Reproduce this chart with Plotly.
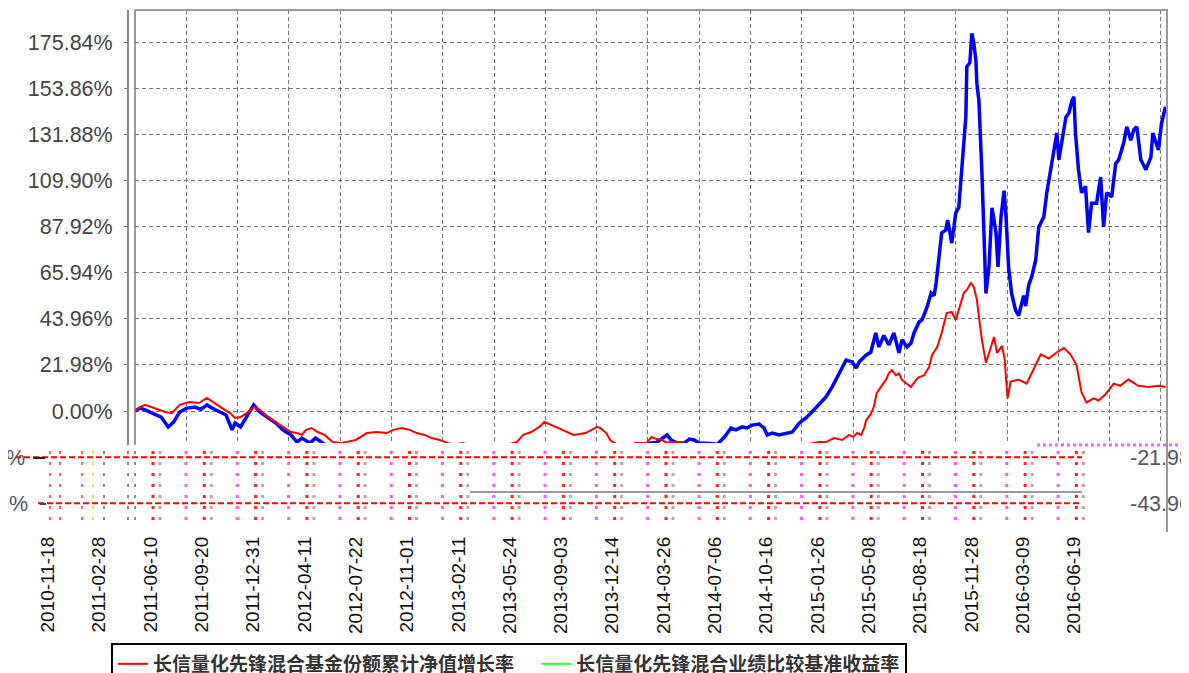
import pandas as pd
import plotly.graph_objects as go

# ---------------- data ----------------
START_DATE = "2010-11-18"
END_DATE = "2016-07-03"

tick_dates = ["2010-11-18", "2011-02-28", "2011-06-10", "2011-09-20", "2011-12-31",
              "2012-04-11", "2012-07-22", "2012-11-01", "2013-02-11", "2013-05-24",
              "2013-09-03", "2013-12-14", "2014-03-26", "2014-07-06", "2014-10-16",
              "2015-01-26", "2015-05-08", "2015-08-18", "2015-11-28", "2016-03-09",
              "2016-06-19"]

y_tick_values = [0.00, 21.98, 43.96, 65.94, 87.92, 109.90, 131.88, 153.86, 175.84]
y_band_labels = ["-21.98%", "-43.96%"]

legend_names = ["长信量化先锋混合基金份额累计净值增长率", "长信量化先锋混合业绩比较基准收益率"]

# blue line: days since start, cumulative return (%)
blue_days = [0, 10, 20, 36, 52, 66, 77, 89, 103, 119, 131, 143, 153, 169, 181, 193, 199, 210,
             222, 236, 248, 264, 280, 294, 310, 322, 332, 348, 359, 369, 383, 407, 437, 467,
             492, 516, 546, 576, 606, 635, 665, 695, 725, 764, 804, 826, 854, 884, 913, 943,
             973, 1003, 1023, 1037, 1048, 1058, 1066, 1078, 1092, 1102, 1112, 1122, 1142,
             1158, 1172, 1185, 1195, 1207, 1217, 1227, 1241, 1251, 1257, 1267, 1281, 1295,
             1307, 1321, 1334, 1346, 1360, 1374, 1386, 1400, 1414, 1426, 1434, 1440, 1454,
             1463, 1473, 1479, 1489, 1499, 1509, 1519, 1525, 1535, 1543, 1549, 1559, 1565,
             1575, 1583, 1589, 1593, 1599, 1604, 1612, 1616, 1624, 1628, 1632, 1638, 1644,
             1648, 1652, 1654, 1660, 1664, 1668, 1672, 1674, 1678, 1682, 1684, 1688, 1692,
             1698, 1704, 1712, 1716, 1722, 1728, 1732, 1737, 1743, 1751, 1757, 1761, 1767,
             1771, 1777, 1783, 1791, 1797, 1807, 1813, 1821, 1827, 1833, 1837, 1843, 1851,
             1857, 1863, 1867, 1870, 1876, 1882, 1890, 1896, 1902, 1912, 1920, 1926, 1932,
             1942, 1950, 1956, 1966, 1972, 1980, 1986, 1992, 2000, 2010, 2020, 2024, 2031,
             2035, 2041, 2049]
blue_values = [0, 1.4, 0.5, -1, -2.9, -7.6, -5.2, -0.5, 1.4, 1.9, 0.8, 2.9, 1.4, -0.5, -1.9,
               -9, -5.7, -7.6, -2.9, 2.9, -0.5, -3.3, -5.7, -9, -11.4, -14.8, -12.9, -15.3,
               -12.9, -14.5, -17, -19, -21, -18, -19.6, -17.5, -19, -21, -22, -24, -23, -21,
               -22, -19, -18, -19.6, -22, -21, -19, -20, -23, -17, -15.3, -15, -12.9, -11.4,
               -13.8, -15.3, -15.3, -13.4, -13.8, -15.3, -15.5, -15.8, -12.4, -8.1, -9, -7.6,
               -8.1, -6.7, -6.2, -8.1, -11.4, -10.5, -11.4, -10.5, -10, -5.7, -3.3, -0.5, 2.9,
               6.7, 11.4, 18, 24.3, 23.4, 20.5, 23.4, 26.7, 28, 37.2, 30.5, 36, 31.5, 37.2,
               27.7, 33.9, 30.5, 32.4, 37.2, 42.4, 43.4, 49.6, 56.3, 55, 61, 73.4, 84.9, 86.3,
               91, 80, 87.7, 94.4, 97, 113.5, 129, 140, 164, 166, 180, 175, 167, 156, 148,
               129, 113.5, 85, 56, 68.7, 96.8, 85, 68.7, 92.5, 105, 92.5, 68.7, 56, 48, 45.5,
               50, 55, 50, 60, 64, 72, 87.7, 92.5, 104, 115, 123, 132.5, 119.7, 129, 140, 142,
               148, 149.7, 132.5, 115, 104, 107, 85, 99, 99, 111.5, 87.7, 104, 102, 118, 119.7,
               127.8, 135.4, 129, 134, 135.4, 119.7, 115, 121, 132.5, 127.8, 124.4, 137, 145]

# red line: days since start, cumulative return (%)
red_days = [0, 10, 20, 36, 60, 73, 89, 107, 127, 143, 157, 173, 189, 199, 210, 222, 236, 248,
            264, 280, 294, 310, 322, 332, 340, 351, 363, 377, 393, 409, 419, 439, 461, 481,
            500, 514, 530, 546, 560, 576, 590, 606, 622, 635, 651, 675, 705, 735, 759, 772,
            788, 804, 814, 826, 842, 856, 872, 896, 909, 919, 925, 937, 945, 957, 973, 995,
            1017, 1027, 1037, 1046, 1056, 1070, 1086, 1112, 1152, 1191, 1231, 1271, 1311,
            1344, 1360, 1374, 1390, 1406, 1420, 1428, 1436, 1444, 1450, 1454, 1463, 1469,
            1475, 1483, 1493, 1499, 1505, 1513, 1519, 1525, 1533, 1543, 1553, 1559, 1569,
            1579, 1585, 1595, 1604, 1614, 1624, 1632, 1638, 1648, 1654, 1662, 1668, 1674,
            1678, 1684, 1692, 1696, 1702, 1708, 1714, 1724, 1729, 1735, 1741, 1757, 1773,
            1787, 1801, 1817, 1833, 1847, 1860, 1872, 1882, 1892, 1906, 1916, 1930, 1946,
            1959, 1975, 1995, 2015, 2035, 2049]
red_values = [0, 1.9, 2.9, 1.4, -0.5, -1, 2.9, 4.3, 3.8, 6.2, 3.8, 1.4, -1, -3.3, -2.9, -1,
              1.9, 0.5, -2.9, -5.2, -7.6, -10, -10.5, -11.4, -9, -8.1, -10, -11.4, -14.8,
              -15.3, -14.8, -13.8, -10.5, -10, -10.5, -9, -8.1, -9, -10.5, -11.4, -12.9,
              -13.8, -15.3, -16, -15.3, -17, -17.5, -16.5, -14.8, -11.4, -10, -7.6, -5.2,
              -6.5, -8.1, -10, -11.4, -10.5, -9, -7.6, -8.1, -10.5, -13.8, -16, -17, -15.3,
              -15.3, -12.4, -13.4, -13.6, -15, -14.8, -15.3, -17, -18.5, -19, -18, -19, -17,
              -15.3, -14.8, -14.8, -12.9, -13.8, -11.4, -12.4, -10.5, -11.4, -8, -4.3, -1.5,
              1.9, 8.6, 11.4, 14.8, 18, 19.5, 17, 18, 14.8, 13.4, 11.4, 14.8, 16.2, 17, 21,
              26.7, 30.5, 37.2, 46.7, 47.2, 43.4, 48.2, 56.3, 57.7, 61, 59, 53, 44.8, 33.9,
              22.9, 25.7, 30.5, 35.3, 27.7, 31, 25, 6, 14, 15, 13, 20, 27, 25, 28, 30, 27,
              22, 9, 4, 6, 5, 8, 13, 12, 15, 12, 11.5, 12, 11.4]

# ---------------- geometry / styles ----------------
# the page body has an 8px default margin, so the figure is drawn 8px in from the corner
OFF = 8
W, H = 1189 - OFF, 673 - OFF
ML, MR, MT, MB = 40 - OFF, 21, 10 - OFF, 153
PW, PH = W - ML - MR, H - MT - MB
Y_TOP, Y_BOT = 191.09, -51.94


def px_x(px):
    """page pixel -> paper fraction"""
    return (px - OFF - ML) / PW


def px_y(py):
    return (H - MB - (py - OFF)) / PH


start = pd.Timestamp(START_DATE)
blue_x = start + pd.to_timedelta(blue_days, unit="D")
red_x = start + pd.to_timedelta(red_days, unit="D")

GRID = "#777777"
TICK_FONT = dict(family="Liberation Sans, Arial", size=21.5, color="#444")
fig = go.Figure()

fig.add_trace(go.Scatter(x=blue_x, y=blue_values, mode="lines",
                         line=dict(color="#0000ff", width=3.5),
                         showlegend=False, hoverinfo="skip"))
fig.add_trace(go.Scatter(x=red_x, y=red_values, mode="lines",
                         name=legend_names[0] + "\u00a0" * 4,
                         line=dict(color="#ff0000", width=2), hoverinfo="skip"))
fig.add_trace(go.Scatter(x=[None], y=[None], mode="lines", name=legend_names[1],
                         line=dict(color="#33ff33", width=2), hoverinfo="skip"))
# label axis (shifted tick labels)
fig.add_trace(go.Scatter(x=[], y=[], xaxis="x2", yaxis="y2", showlegend=False,
                         hoverinfo="skip"))

fig.update_layout(
    width=W, height=H,
    margin=dict(l=ML, r=MR, t=MT, b=MB, autoexpand=False),
    paper_bgcolor="white", plot_bgcolor="rgba(0,0,0,0)",
    xaxis=dict(domain=[px_x(135), 1.0], range=[START_DATE, END_DATE], type="date",
               tickvals=tick_dates, showticklabels=False, ticks="",
               showgrid=True, gridcolor=GRID, gridwidth=1, griddash="4px,3px",
               zeroline=False, showline=False),
    yaxis=dict(range=[Y_BOT, Y_TOP], anchor="free", position=px_x(128),
               tickvals=y_tick_values, ticktext=[f"{v:.2f}%" for v in y_tick_values],
               ticks="outside", ticklen=4, tickcolor="#777", tickwidth=1,
               ticklabelstandoff=7, tickfont=TICK_FONT,
               showgrid=True, gridcolor=GRID, gridwidth=1, griddash="4px,3px",
               zeroline=False, showline=False),
    xaxis2=dict(domain=[px_x(135 - 87), px_x(1168 - 87)], range=[START_DATE, END_DATE],
                type="date", anchor="y2", tickvals=tick_dates,
                ticktext=tick_dates, tickangle=-90, ticks="", ticklabelstandoff=12,
                tickfont=dict(family="Liberation Sans, Arial", size=19, color="#111"),
                showgrid=False, zeroline=False, showline=False),
    yaxis2=dict(domain=[0, 1], range=[0, 1], visible=False, showgrid=False,
                anchor="x2"),
    legend=dict(orientation="h", x=px_x(111), y=px_y(643), xanchor="left", yanchor="top",
                bordercolor="#000", borderwidth=2, bgcolor="white",
                font=dict(family="Noto Sans CJK SC", size=19, color="#333", weight="bold")),
    showlegend=True,
)

shapes = []
# glitch band cover
shapes.append(dict(type="rect", xref="paper", yref="paper", x0=px_x(0), x1=px_x(1189),
                   y0=px_y(520), y1=px_y(443), fillcolor="white", line=dict(width=0),
                   layer="above"))
# decorative dotted columns in the band
for k in range(19):
    cx = 153 + 51.3 * k
    shapes.append(dict(type="line", xref="paper", yref="paper", x0=px_x(cx), x1=px_x(cx),
                       y0=px_y(520), y1=px_y(447),
                       line=dict(color="#ff2020", width=3, dash="3px,8px"), layer="above"))
    shapes.append(dict(type="line", xref="paper", yref="paper", x0=px_x(cx + 7),
                       x1=px_x(cx + 7), y0=px_y(520), y1=px_y(447),
                       line=dict(color="#c8a0a0", width=3, dash="3px,8px"), layer="above"))
for k in range(18):
    cx = 186 + 51.3 * k
    shapes.append(dict(type="line", xref="paper", yref="paper", x0=px_x(cx), x1=px_x(cx),
                       y0=px_y(520), y1=px_y(447),
                       line=dict(color="#ff55ff", width=3, dash="3px,8px"), layer="above"))
for cx, col in [(50, "#ff6060"), (60, "#ff6060"), (82, "#ff6060"), (93, "#e8e040"),
                (104, "#888888"), (128, "#888888"), (135, "#888888")]:
    shapes.append(dict(type="line", xref="paper", yref="paper", x0=px_x(cx), x1=px_x(cx),
                       y0=px_y(520), y1=px_y(447),
                       line=dict(color=col, width=2, dash="3px,8px"), layer="above"))
# band horizontal lines
shapes.append(dict(type="line", xref="paper", yref="y", x0=px_x(15), x1=px_x(1082),
                   y0=-21.98, y1=-21.98, line=dict(color="#ff0000", width=2, dash="6px,3px"),
                   layer="above"))
shapes.append(dict(type="line", xref="paper", yref="y", x0=px_x(38), x1=px_x(1082),
                   y0=-43.96, y1=-43.96, line=dict(color="#ff0000", width=2, dash="6px,3px"),
                   layer="above"))
shapes.append(dict(type="line", xref="paper", yref="paper", x0=px_x(470), x1=px_x(1082),
                   y0=px_y(492), y1=px_y(492), line=dict(color="#999", width=2),
                   layer="above"))
shapes.append(dict(type="line", xref="paper", yref="paper", x0=px_x(1037), x1=px_x(1189),
                   y0=px_y(445), y1=px_y(445),
                   line=dict(color="#ee66ee", width=3, dash="3px,3px"), layer="above"))
shapes.append(dict(type="line", xref="paper", yref="paper", x0=px_x(33), x1=px_x(45),
                   y0=px_y(458), y1=px_y(458), line=dict(color="#222", width=2),
                   layer="above"))
shapes.append(dict(type="line", xref="paper", yref="paper", x0=px_x(40), x1=px_x(46),
                   y0=px_y(504), y1=px_y(504), line=dict(color="#444", width=2),
                   layer="above"))
# frame lines
shapes.append(dict(type="line", xref="paper", yref="paper", x0=px_x(128), x1=px_x(128),
                   y0=px_y(445), y1=px_y(10), line=dict(color="#888", width=2),
                   layer="above"))
shapes.append(dict(type="line", xref="paper", yref="paper", x0=px_x(135), x1=px_x(135),
                   y0=px_y(445), y1=px_y(10), line=dict(color="#777", width=1.5),
                   layer="above"))
shapes.append(dict(type="line", xref="paper", yref="paper", x0=px_x(135), x1=px_x(1168),
                   y0=px_y(10), y1=px_y(10), line=dict(color="#999", width=2),
                   layer="above"))
shapes.append(dict(type="line", xref="paper", yref="paper", x0=px_x(1167), x1=px_x(1167),
                   y0=px_y(532), y1=px_y(10), line=dict(color="#999", width=2),
                   layer="above"))
fig.update_layout(shapes=shapes)

annots = []
for lbl, py, right_px in [(y_band_labels[0], 458, 27), (y_band_labels[1], 504, 30)]:
    annots.append(dict(text=lbl, xref="paper", yref="paper", x=px_x(right_px), y=px_y(py),
                       xanchor="right", yanchor="middle", showarrow=False,
                       font=dict(family="Liberation Sans, Arial", size=21.5, color="#556")))
    annots.append(dict(text=lbl.rstrip("%"), xref="paper", yref="paper", x=px_x(1128),
                       y=px_y(py), xanchor="left", yanchor="middle", showarrow=False,
                       font=dict(family="Liberation Sans, Arial", size=21.5, color="#556")))
fig.update_layout(annotations=annots)

fig.write_html("out.html")
